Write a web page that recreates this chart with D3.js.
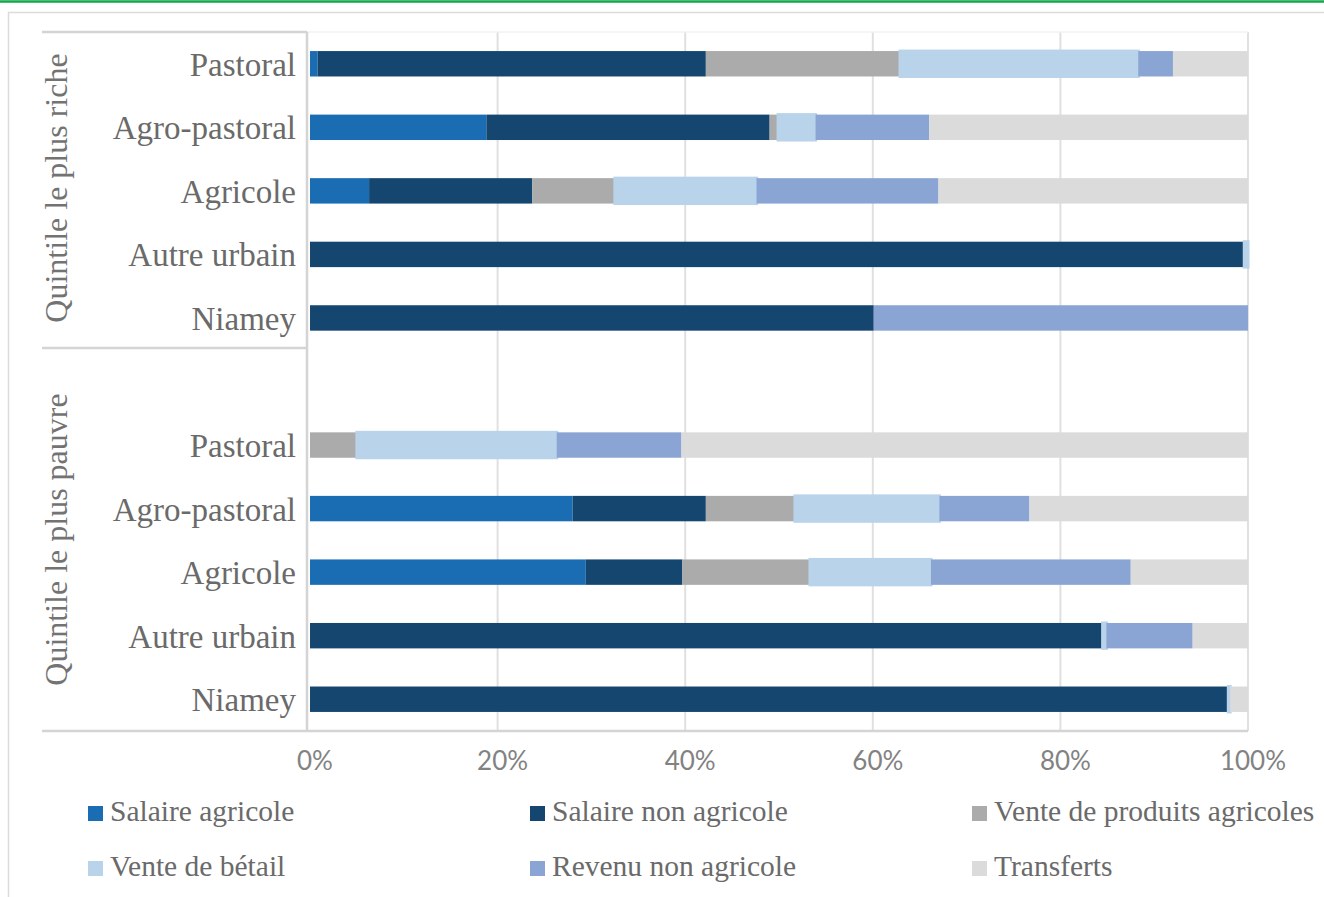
<!DOCTYPE html>
<html>
<head>
<meta charset="utf-8">
<script src="https://cdn.jsdelivr.net/npm/d3@7"></script>
<style>
  body { margin: 0; background: #fff; }
  svg { display: block; }
</style>
</head>
<body>
<svg id="chart"></svg>
<script>

// series, in stacking order
const series = ['Salaire agricole', 'Salaire non agricole', 'Vente de produits agricoles', 'Vente de bétail', 'Revenu non agricole', 'Transferts']

const colours = ['#1b6db3', '#15466f', '#ababab', '#b9d3ea', '#8aa5d3', '#dbdbdb']

const zones = ['Pastoral', 'Agro-pastoral', 'Agricole', 'Autre urbain', 'Niamey']

const groups = ['Quintile le plus riche', 'Quintile le plus pauvre']

// shares in %, one row per zone, columns follow `series`
const riche = [
    [0.8, 41.4, 20.7, 25.4, 3.7, 8.0],
    [18.8, 30.2, 0.9, 4.0, 12.1, 34.0],
    [6.3, 17.4, 8.8, 15.1, 19.4, 33.0],
    [0, 99.6, 0, 0.4, 0, 0],
    [0, 60.1, 0, 0, 39.9, 0]
]

const pauvre = [
    [0, 0, 5.0, 21.3, 13.3, 60.4],
    [28.0, 14.2, 9.5, 15.4, 9.6, 23.3],
    [29.4, 10.3, 13.6, 12.9, 21.3, 12.5],
    [0, 84.5, 0, 0.4, 9.2, 5.9],
    [0, 97.9, 0, 0.2, 0, 1.9]
]

const ticks = [0, 20, 40, 60, 80, 100]

const width = 1324, height = 897

const svg = d3.select('#chart')
    .attr('width', width)
    .attr('height', height)

const serif = 'Liberation Serif, Times New Roman, serif'
const textGrey = '#6a6a6a'

// rows: riche block, one empty slot, pauvre block
var rows = []
riche.forEach((r, i) => rows.push({ key: 'r' + i, zone: zones[i], values: r }))
rows.push({ key: 'gap', zone: '', values: null })
pauvre.forEach((r, i) => rows.push({ key: 'p' + i, zone: zones[i], values: r }))

const x = d3.scaleLinear().domain([0, 100]).range([310, 1248])

const y = d3.scaleBand()
    .domain(rows.map(d => d.key))
    .range([32, 731])
    .paddingInner(0.6)
    .paddingOuter(0.3)

// frame
svg.append('line')
    .attr('x1', 0).attr('x2', width)
    .attr('y1', 1.5).attr('y2', 1.5)
    .attr('stroke', '#12a84a')
    .attr('stroke-width', 2.5)

svg.append('path')
    .attr('d', `M8.5,${height} V12.5 H${width}`)
    .attr('fill', 'none')
    .attr('stroke', '#dcdcdc')
    .attr('stroke-width', 1.5)

// gridlines
svg.append('g')
    .selectAll('line')
    .data(ticks.slice(1))
    .enter().append('line')
    .attr('x1', d => x(d)).attr('x2', d => x(d))
    .attr('y1', 32).attr('y2', 731)
    .attr('stroke', '#e0e0e0')
    .attr('stroke-width', 2)

svg.append('line')
    .attr('x1', 307).attr('x2', x(100))
    .attr('y1', 32).attr('y2', 32)
    .attr('stroke', '#f2f2f2')
    .attr('stroke-width', 1.5)

// stacked bars
const stack = d3.stack()
    .keys(d3.range(series.length))
    .value((d, k) => d.values[k])

const stacked = stack(rows.filter(d => d.values))

svg.append('g')
    .selectAll('g')
    .data(stacked)
    .enter().append('g')
    .attr('fill', (d, i) => colours[i])
    .attr('stroke', (d, i) => i === 3 ? colours[i] : 'none')
    .attr('stroke-width', (d, i) => i === 3 ? 3 : 0)
    .selectAll('rect')
    .data(d => d.filter(s => s[1] - s[0] > 0))
    .enter().append('rect')
    .attr('x', d => x(d[0]))
    .attr('width', d => x(d[1]) - x(d[0]))
    .attr('y', d => y(d.data.key))
    .attr('height', y.bandwidth())

// category axis boxes
const axisLine = '#d4d4d4'

svg.append('g')
    .selectAll('line')
    .data([
        [42, 32, 307, 32],
        [42, 348, 307, 348],
        [307, 32, 307, 731],
        [42, 731, x(100), 731]
    ])
    .enter().append('line')
    .attr('x1', d => d[0]).attr('y1', d => d[1])
    .attr('x2', d => d[2]).attr('y2', d => d[3])
    .attr('stroke', axisLine)
    .attr('stroke-width', 2.5)

// zone labels
svg.append('g')
    .selectAll('text')
    .data(rows.filter(d => d.values))
    .enter().append('text')
    .attr('x', 296)
    .attr('y', d => y(d.key) + y.bandwidth() / 2 + 12)
    .attr('text-anchor', 'end')
    .attr('font-family', serif)
    .attr('font-size', '33px')
    .attr('fill', textGrey)
    .text(d => d.zone)

// group labels, rotated
const groupCentres = [(32 + 348) / 2 - 2, (348 + 731) / 2]

svg.append('g')
    .selectAll('text')
    .data(groups)
    .enter().append('text')
    .attr('transform', (d, i) => `translate(67,${groupCentres[i]}) rotate(-90)`)
    .attr('text-anchor', 'middle')
    .attr('font-family', serif)
    .attr('font-size', '32px')
    .attr('fill', '#737373')
    .text(d => d)

// x axis labels
svg.append('g')
    .selectAll('text')
    .data(ticks)
    .enter().append('text')
    .attr('x', d => x(d) + 5)
    .attr('y', 770)
    .attr('text-anchor', 'middle')
    .attr('font-family', 'Lato, sans-serif')
    .attr('font-size', '26px')
    .attr('fill', '#828282')
    .text(d => d + '%')

// legend, 3 columns x 2 rows
const legendCols = [88, 530, 972]
const legendRows = [821, 876]

const legend = svg.append('g')
    .selectAll('g')
    .data(series)
    .enter().append('g')
    .attr('transform', (d, i) => `translate(${legendCols[i % 3]},${legendRows[Math.floor(i / 3)]})`)

legend.append('rect')
    .attr('x', 0)
    .attr('y', -15)
    .attr('width', 15)
    .attr('height', 15)
    .attr('fill', (d, i) => colours[i])

legend.append('text')
    .attr('x', 22)
    .attr('y', 0)
    .attr('font-family', serif)
    .attr('font-size', '29.5px')
    .attr('fill', textGrey)
    .text(d => d)

</script>
</body>
</html>
